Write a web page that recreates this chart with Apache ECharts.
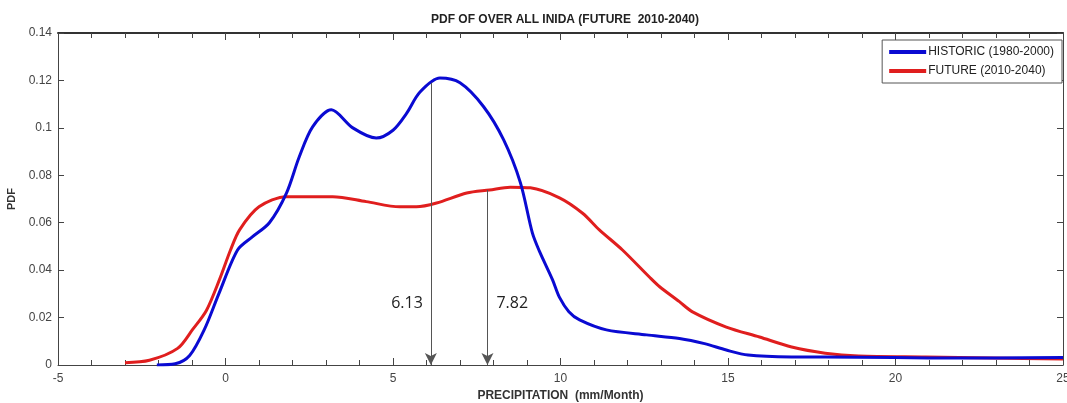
<!DOCTYPE html>
<html>
<head>
<meta charset="utf-8">
<script src="https://cdn.jsdelivr.net/npm/echarts@6/dist/echarts.min.js"></script>
<style>
  html, body { margin: 0; padding: 0; background: #fff; }
  #chart { width: 1067px; height: 403px; }
</style>
</head>
<body>
<div id="chart"></div>
<script>
const font = "'Liberation Sans Narrow', 'Liberation Sans', Arial, sans-serif";

// historic (1980-2000) pdf
const histX = [-2.05, -1.5, -1.07, -0.63, -0.2, 0.36, 0.8, 1.31, 1.82, 2.2, 2.6, 3.16, 3.8, 4.5, 5.0, 5.4, 5.8, 6.4, 7.0, 7.7, 8.3, 8.8, 9.16, 9.37, 9.76, 9.97, 10.25, 10.57, 11.37, 12.57, 13.55, 14.3, 14.95, 15.6, 16.9, 18.9, 21, 23, 25];
const histY = [0, 0.0005, 0.004, 0.015, 0.03, 0.0485, 0.054, 0.06, 0.0725, 0.0877, 0.1004, 0.1076, 0.1, 0.0957, 0.099, 0.106, 0.115, 0.121, 0.119, 0.109, 0.095, 0.077, 0.0557, 0.048, 0.036, 0.0285, 0.0225, 0.019, 0.0148, 0.0127, 0.0112, 0.009, 0.0063, 0.0042, 0.0034, 0.0033, 0.003, 0.003, 0.0032];

// future (2010-2040) pdf
const futX = [-3.0, -2.27, -1.43, -0.98, -0.57, -0.18, 0.15, 0.42, 1.0, 1.82, 3.2, 4.2, 5.2, 5.7, 6.3, 7.2, 7.88, 8.5, 9.1, 9.97, 10.66, 11.16, 11.85, 12.66, 12.96, 13.55, 13.94, 14.95, 15.94, 16.9, 17.9, 18.9, 20.9, 22.9, 25];
const futY = [0.001, 0.002, 0.007, 0.015, 0.023, 0.036, 0.0485, 0.057, 0.0667, 0.071, 0.071, 0.0689, 0.0667, 0.0667, 0.0683, 0.0725, 0.0738, 0.075, 0.0747, 0.0705, 0.064, 0.057, 0.0485, 0.037, 0.033, 0.0267, 0.0224, 0.016, 0.0118, 0.0076, 0.005, 0.0038, 0.0034, 0.003, 0.0025];

// arrows marking the peaks
const peakX = [6.13, 7.82];
const peakTop = [0.119, 0.0738];
const peakLabelY = 0.026;

const seriesNames = ['HISTORIC (1980-2000)', 'FUTURE (2010-2040)'];
const colors = ['#0a0ad2', '#e01e1e'];

const zip = (xs, ys) => xs.map((x, i) => [x, ys[i]]);

const arrowMark = (i) => ({
  silent: true,
  symbol: ['none', 'arrow'],
  symbolSize: [9, 12],
  lineStyle: { color: '#555', width: 1, type: 'solid' },
  itemStyle: { color: '#111' },
  label: { show: false },
  data: [[{ coord: [peakX[i], peakTop[i]] }, { coord: [peakX[i], 0] }]]
});

const labelMark = (i) => ({
  silent: true,
  symbol: 'circle',
  symbolSize: 0,
  label: {
    show: true,
    position: i === 0 ? 'left' : 'right',
    distance: i === 0 ? 8 : 9,
    formatter: peakX[i].toFixed(2),
    color: '#222',
    fontSize: 16,
    fontFamily: "'Open Sans', 'Liberation Sans', sans-serif"
  },
  data: [{ coord: [peakX[i], peakLabelY] }]
});

const tickLabel = { color: '#444', fontSize: 12, fontFamily: font };
const tick = { inside: true, lineStyle: { color: '#444' } };

var myChart = echarts.init(document.getElementById('chart'));
myChart.setOption({
  animation: false,
  color: colors,
  title: {
    text: 'PDF OF OVER ALL INIDA (FUTURE  2010-2040)',
    left: 560,
    textAlign: 'center',
    top: 9,
    textStyle: { fontSize: 12, fontWeight: 'bold', color: '#222', fontFamily: font }
  },
  legend: {
    data: seriesNames,
    orient: 'vertical',
    right: 5,
    top: 40,
    icon: 'rect',
    itemWidth: 37,
    itemHeight: 4,
    itemGap: 7,
    padding: [6, 8, 6, 7],
    borderColor: '#555',
    borderWidth: 1,
    backgroundColor: '#fff',
    textStyle: { fontSize: 12, color: '#222', fontFamily: font, padding: [0, 0, 0, -3] }
  },
  grid: { left: 58, right: 4, top: 33, bottom: 38, containLabel: false, outerBoundsMode: 'none' },
  xAxis: [
    {
      type: 'value',
      min: -5, max: 25, interval: 5,
      name: 'PRECIPITATION  (mm/Month)',
      nameLocation: 'middle',
      nameGap: 23,
      nameTextStyle: { fontSize: 12, fontWeight: 'bold', color: '#333', fontFamily: font },
      axisLine: { show: true, onZero: false, lineStyle: { color: '#444', width: 1 } },
      axisTick: Object.assign({ length: 7 }, tick),
      minorTick: { show: true, splitNumber: 5, length: 5, lineStyle: { color: '#444' } },
      axisLabel: Object.assign({ margin: 8 }, tickLabel),
      splitLine: { show: false }
    },
    {
      type: 'value',
      position: 'top',
      min: -5, max: 25, interval: 5,
      axisLine: { show: true, onZero: false, lineStyle: { color: '#333', width: 2 } },
      axisTick: Object.assign({ length: 7 }, tick),
      minorTick: { show: true, splitNumber: 5, length: 5, lineStyle: { color: '#444' } },
      axisLabel: { show: false },
      splitLine: { show: false }
    }
  ],
  yAxis: [
    {
      type: 'value',
      min: 0, max: 0.14, interval: 0.02,
      name: 'PDF',
      nameLocation: 'middle',
      nameGap: 38,
      nameTextStyle: { fontSize: 11, fontWeight: 'bold', color: '#333', fontFamily: font },
      axisLine: { show: true, onZero: false, lineStyle: { color: '#444', width: 1 } },
      axisTick: Object.assign({ length: 6 }, tick),
      axisLabel: Object.assign({ margin: 6 }, tickLabel),
      splitLine: { show: false }
    },
    {
      type: 'value',
      position: 'right',
      min: 0, max: 0.14, interval: 0.02,
      axisLine: { show: true, onZero: false, lineStyle: { color: '#444', width: 1 } },
      axisTick: Object.assign({ length: 6 }, tick),
      axisLabel: { show: false },
      splitLine: { show: false }
    }
  ],
  series: [
    {
      name: seriesNames[0],
      type: 'line',
      data: zip(histX, histY),
      smooth: 0.3,
      showSymbol: false,
      lineStyle: { width: 3, color: colors[0] },
      z: 3,
      markLine: arrowMark(0),
      markPoint: labelMark(0)
    },
    {
      name: seriesNames[1],
      type: 'line',
      data: zip(futX, futY),
      smooth: 0.3,
      showSymbol: false,
      lineStyle: { width: 3, color: colors[1] },
      z: 2,
      markLine: arrowMark(1),
      markPoint: labelMark(1)
    }
  ]
});
window.onresize = function () {
  myChart.resize();
};
</script>
</body>
</html>
